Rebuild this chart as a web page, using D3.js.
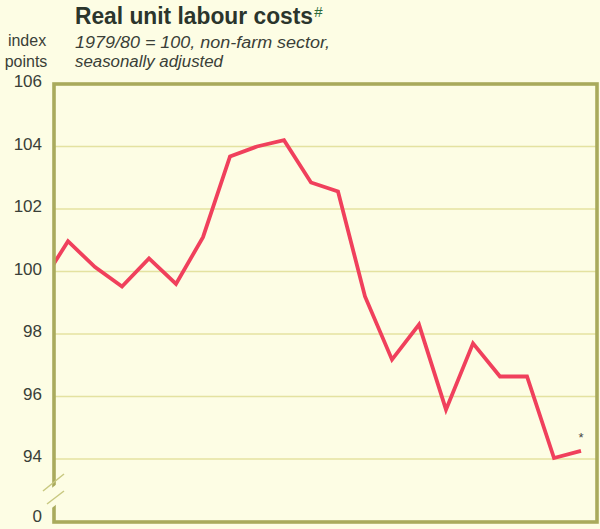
<!DOCTYPE html>
<html><head><meta charset="utf-8">
<script src="https://cdn.jsdelivr.net/npm/d3@7"></script>
<style>body{margin:0;background:#fdfde4;}svg{display:block;}</style>
</head><body>
<svg id="c" width="600" height="529"></svg>
<script>
// Quarterly index values (first one lies just outside the frame and is clipped)
const quarters = d3.range(21);
const values = [99.6, 100.97, 100.14, 99.52, 100.42, 99.6, 101.1, 103.68, 104.0, 104.2,
                102.85, 102.56, 99.2, 97.18, 98.3, 95.58, 97.7, 96.64, 96.64, 94.03, 94.26];
const yTicks = [0, 94, 96, 98, 100, 102, 104, 106];
const gridTicks = [94, 96, 98, 100, 102, 104];

(function(){
const svg = d3.select("#c");
const W = 600, H = 529;
svg.append("rect").attr("width", W).attr("height", H).attr("fill", "#fdfde4");

const pL = 54, pR = 597, pT = 84, pB = 522;
const x = d3.scaleLinear().domain([0, 20]).range([41, 581]);
const y = d3.scaleLinear().domain([0, 94, 106]).range([pB, 459, pT]);

// gridlines
svg.append("g").selectAll("line").data(gridTicks).join("line")
  .attr("x1", pL).attr("x2", pR)
  .attr("y1", d => y(d)).attr("y2", d => y(d))
  .attr("stroke", "#e4e2a0").attr("stroke-width", 1.6);

// tick labels
svg.append("g").selectAll("text").data(yTicks).join("text")
  .attr("x", 42).attr("y", d => y(d) + (d === 0 ? -4 : -1))
  .attr("text-anchor", "end").attr("dominant-baseline", "middle")
  .attr("font-family", "Liberation Sans, Arial, sans-serif").attr("font-size", 17)
  .attr("fill", "#3a3f38").text(d => d);

// line clipped to frame
svg.append("clipPath").attr("id", "clip").append("rect")
  .attr("x", pL).attr("y", pT).attr("width", pR - pL).attr("height", pB - pT);
const line = d3.line().x((d, i) => x(quarters[i])).y(d => y(d));
svg.append("path").datum(values).attr("d", line)
  .attr("clip-path", "url(#clip)")
  .attr("fill", "none").attr("stroke", "#f0405c").attr("stroke-width", 3.8)
  .attr("stroke-linejoin", "miter").attr("stroke-linecap", "butt");

// frame
svg.append("rect").attr("x", pL).attr("y", pT).attr("width", pR - pL).attr("height", pB - pT)
  .attr("fill", "none").attr("stroke", "#a9aa5c").attr("stroke-width", 3.6);

// axis break
svg.append("polygon")
  .attr("points", "44,494 66,477 66,497 44,514")
  .attr("fill", "#fdfde4");
svg.append("line").attr("x1", 43).attr("y1", 491).attr("x2", 64).attr("y2", 474)
  .attr("stroke", "#c8c880").attr("stroke-width", 1.5);
svg.append("line").attr("x1", 47).attr("y1", 504).attr("x2", 64).attr("y2", 491)
  .attr("stroke", "#c8c880").attr("stroke-width", 1.5);

// asterisk
svg.append("text").attr("x", 581).attr("y", 442).attr("text-anchor", "middle")
  .attr("font-family", "Liberation Sans, Arial, sans-serif").attr("font-size", 13)
  .attr("fill", "#444").text("*");

// titles
const title = svg.append("text").attr("x", 75).attr("y", 24)
  .attr("font-family", "Liberation Sans, Arial, sans-serif").attr("font-weight", "bold")
  .attr("font-size", 23).attr("fill", "#2b352c");
title.append("tspan").text("Real unit labour costs").attr("textLength", 238).attr("lengthAdjust", "spacingAndGlyphs");
title.append("tspan").attr("dx", 1).attr("dy", -7).attr("font-size", 15).attr("font-weight", "normal")
  .attr("font-style", "italic").attr("fill", "#2e6a3a").text("#");

svg.append("text").attr("x", 75).attr("y", 48)
  .attr("font-family", "Liberation Sans, Arial, sans-serif").attr("font-style", "italic")
  .attr("font-size", 16).attr("fill", "#3a3f38").attr("textLength", 255).attr("lengthAdjust", "spacingAndGlyphs")
  .text("1979/80 = 100, non-farm sector,");
svg.append("text").attr("x", 75).attr("y", 67)
  .attr("font-family", "Liberation Sans, Arial, sans-serif").attr("font-style", "italic")
  .attr("font-size", 16).attr("fill", "#3a3f38").attr("textLength", 148).attr("lengthAdjust", "spacingAndGlyphs")
  .text("seasonally adjusted");

svg.append("text").attr("x", 27).attr("y", 46).attr("text-anchor", "middle")
  .attr("font-family", "Liberation Sans, Arial, sans-serif").attr("font-size", 16)
  .attr("fill", "#3a3f38").text("index");
svg.append("text").attr("x", 26).attr("y", 67).attr("text-anchor", "middle")
  .attr("font-family", "Liberation Sans, Arial, sans-serif").attr("font-size", 16)
  .attr("fill", "#3a3f38").text("points");
})();
</script>
</body></html>
